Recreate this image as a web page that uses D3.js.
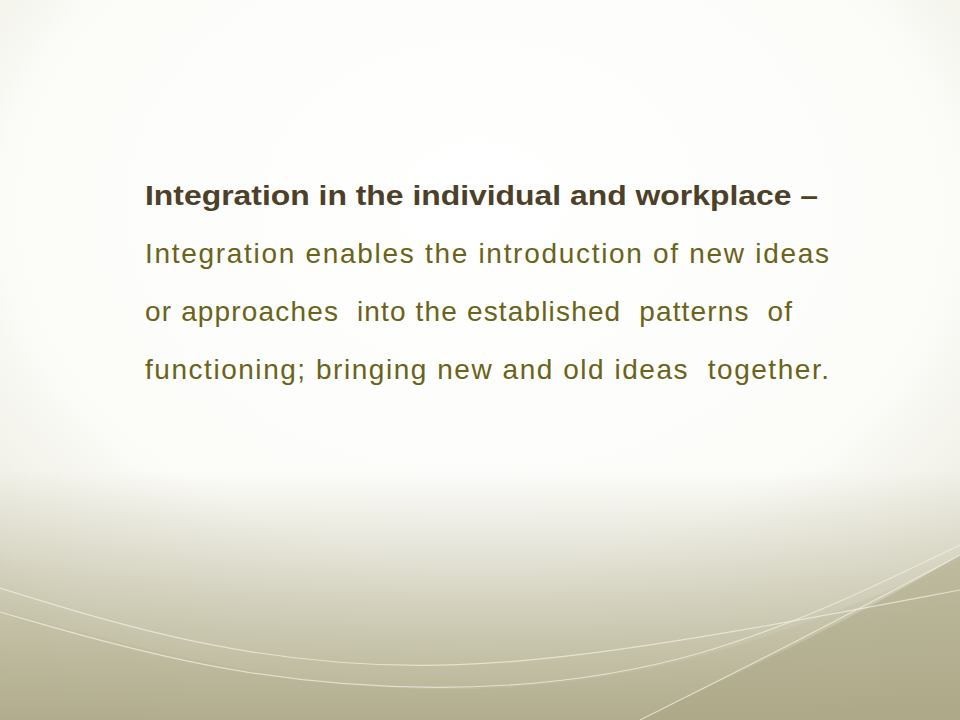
<!DOCTYPE html>
<html><head><meta charset="utf-8">
<script src="https://cdn.jsdelivr.net/npm/d3@7"></script>
<style>body{margin:0;overflow:hidden}</style>
</head><body>
<script>
const titleLine = "Integration in the individual and workplace –";
const bodyLines = [
  "Integration enables the introduction of new ideas",
  "or approaches  into the established  patterns  of",
  "functioning; bringing new and old ideas  together."
];
const lineWidths = [673, 684, 647, 684];
const W = 960, H = 720;
const svg = d3.select("body").append("svg").attr("width", W).attr("height", H);
const defs = svg.append("defs");
const rg = defs.append("radialGradient").attr("id","bg").attr("cx","50%").attr("cy","30%").attr("r","80%").attr("fx","50%").attr("fy","28%");
rg.append("stop").attr("offset","0%").attr("stop-color","#ffffff");
rg.append("stop").attr("offset","60%").attr("stop-color","#fcfcf9");
rg.append("stop").attr("offset","85%").attr("stop-color","#ecebe0");
rg.append("stop").attr("offset","100%").attr("stop-color","#d6d4c0");
svg.append("rect").attr("width",W).attr("height",H).attr("fill","url(#bg)");
const vg = defs.append("linearGradient").attr("id","vg").attr("x1",0).attr("y1",0).attr("x2",0).attr("y2",1);
vg.append("stop").attr("offset","0%").attr("stop-color","#aeaa88").attr("stop-opacity",0);
vg.append("stop").attr("offset","100%").attr("stop-color","#aeaa88").attr("stop-opacity",0.9);
svg.append("rect").attr("y",470).attr("width",W).attr("height",250).attr("fill","url(#vg)");
const lg = defs.append("linearGradient").attr("id","band").attr("x1",0).attr("y1",0).attr("x2",0).attr("y2",1);
lg.append("stop").attr("offset","0%").attr("stop-color","#cfcdb6");
lg.append("stop").attr("offset","100%").attr("stop-color","#b0ab8c");
const line = d3.line().curve(d3.curveBasis);
svg.append("path").attr("d", line([[0,610],[200,665],[430,700],[700,670],[960,560]]) + "L960,720L0,720Z")
  .attr("fill","url(#band)").attr("opacity",0.6);
svg.append("path").attr("d", line([[640,720],[850,620],[960,555]])+"L960,720Z").attr("fill","#aaa684").attr("opacity",0.5);
[[[0,588],[200,650],[450,677],[750,630],[960,590]],
 [[0,612],[200,670],[430,696],[700,670],[960,545]],
 [[640,720],[800,640],[960,555]]].forEach(p=>{
  svg.append("path").attr("d", line(p)).attr("fill","none").attr("stroke","#f2f1e6").attr("stroke-width",1.2).attr("opacity",0.7);
});
const fam = "'Liberation Sans', Arial, sans-serif";
svg.append("text").attr("x",145).attr("y",205).attr("font-family",fam).attr("font-size",28)
  .attr("font-weight","bold").attr("fill","#4c4128")
  .attr("textLength",lineWidths[0]).attr("lengthAdjust","spacingAndGlyphs").text(titleLine);
svg.selectAll("text.b").data(bodyLines).join("text").attr("class","b")
  .attr("x",145).attr("y",(d,i)=>263+i*58).attr("font-family",fam).attr("font-size",28)
  .attr("fill","#6a6319").style("white-space","pre")
  .attr("textLength",(d,i)=>lineWidths[i+1]).attr("lengthAdjust","spacing").text(d=>d);
</script>
</body></html>
